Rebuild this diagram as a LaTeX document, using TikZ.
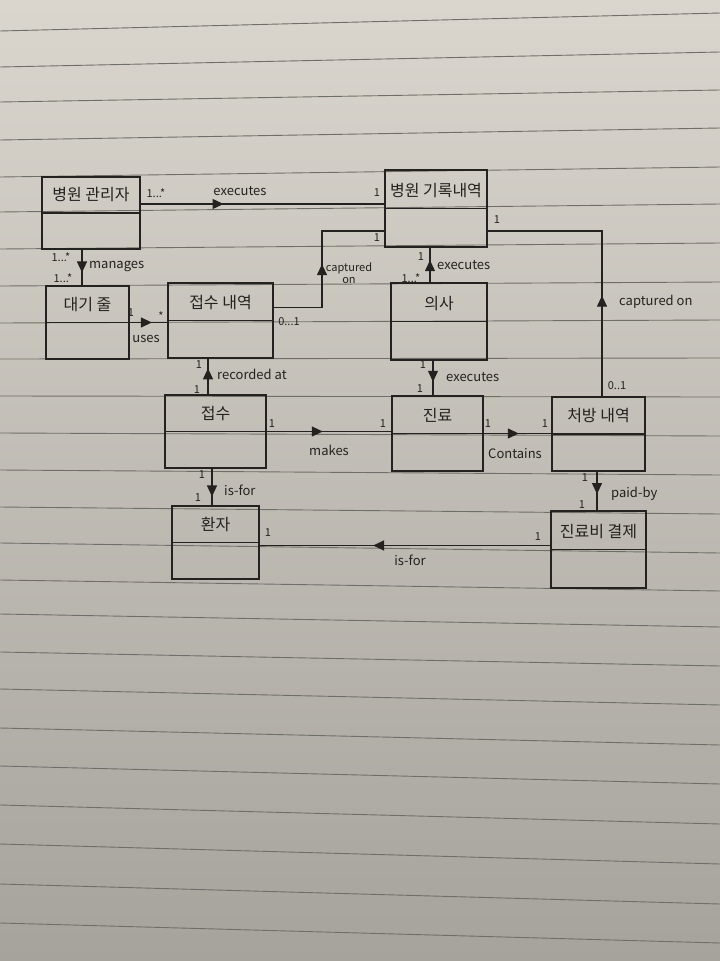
\documentclass[tikz,border=0pt]{standalone}
\usepackage{fontspec}
\setmainfont{Noto Sans CJK KR}
\usetikzlibrary{arrows.meta,decorations.markings}
\definecolor{ink}{RGB}{36,34,32}
\definecolor{paperTop}{RGB}{218,214,206}
\definecolor{paperMid}{RGB}{202,198,189}
\definecolor{paperBot}{RGB}{166,163,156}
\definecolor{ruleline}{RGB}{112,110,104}

\begin{document}
\begin{tikzpicture}[x=1pt,y=-1pt,
  cls/.style 2 args={draw=ink,line width=1.5pt,minimum width=#1,minimum height=#2,inner sep=0pt,
    font=\fontsize{16}{17}\selectfont,text=ink,text height=12pt,text depth=37pt,
    path picture={\draw[ink,line width=1.5pt] (path picture bounding box.west) -- (path picture bounding box.east);}},
  assoc/.style={ink,line width=1.2pt},
  dirmark/.style={postaction={decorate,decoration={markings,
    mark=at position #1 with {\arrow{Triangle[length=11pt,width=10pt]}}}}},
  lbl/.style={font=\fontsize{13}{14}\selectfont,text=ink,inner sep=0pt},
  mult/.style={font=\fontsize{11}{12}\selectfont,text=ink,inner sep=0pt}]
\useasboundingbox (0,0) rectangle (720,961);
% notebook paper
\shade[top color=paperTop,middle color=paperMid,bottom color=paperBot] (0,0) rectangle (720,961);
\foreach \yl/\yr in {31/13,67/52,102/90,140/128,177/167,212/204,249/243,286/282,323/320,
  359/358,396/397,433/436,470/475,507/514,543/553,580/591,614/627,652/666,689/705,
  728/745,766/784,805/824,844/864,884/904,923/943}
  \draw[ruleline,line width=0.9pt] (0,\yl) -- (720,\yr);

% classes
\node[cls={98pt}{72pt}] (hadmin) at (91,213) {병원 관리자};
\node[cls={102pt}{77pt}] (hrec) at (436,208.5) {병원 기록내역};
\node[cls={83pt}{73pt}] (queue) at (87.5,322.5) {대기 줄};
\node[cls={105pt}{75pt}] (rcphist) at (220.5,320.5) {접수 내역};
\node[cls={96pt}{77pt}] (doctor) at (439,321.5) {의사};
\node[cls={101pt}{73pt}] (rcp) at (215.5,431.5) {접수};
\node[cls={91pt}{75pt}] (treat) at (437.5,433.5) {진료};
\node[cls={93pt}{74pt}] (presc) at (598.5,434) {처방 내역};
\node[cls={87pt}{73pt}] (patient) at (215.5,542.5) {환자};
\node[cls={95pt}{77pt}] (pay) at (598.5,549.5) {진료비 결제};
\coordinate (capbend) at (322,231);

% associations
\draw[assoc,dirmark=0.34] ([yshift=9pt]hadmin.east) -- ([yshift=9pt]hadmin.east -| hrec.west);
\draw[assoc,dirmark=0.64] ([xshift=-9pt]hadmin.south) -- ([xshift=-9pt]hadmin.south |- queue.north);
\draw[assoc,dirmark=0.59] (queue.east) -- (queue.east -| rcphist.west);
\draw[assoc,dirmark=0.49] ([yshift=13pt]rcphist.east) -| (capbend) -- (capbend -| hrec.west);
\draw[assoc,dirmark=0.64] ([xshift=-9pt]doctor.north) -- ([xshift=-9pt]doctor.north |- hrec.south);
\draw[assoc,dirmark=0.36] ([xshift=3.5pt]presc.north) |- ([yshift=-22.5pt]hrec.east);
\draw[assoc,dirmark=0.61] ([xshift=-6pt]doctor.south) -- ([xshift=-6pt]doctor.south |- treat.north);
\draw[assoc,dirmark=0.73] ([xshift=-7.5pt]rcp.north) -- ([xshift=-7.5pt]rcp.north |- rcphist.south);
\draw[assoc,dirmark=0.45] (rcp.east) -- (rcp.east -| treat.west);
\draw[assoc,dirmark=0.52] (treat.east) -- (treat.east -| presc.west);
\draw[assoc,dirmark=0.76] ([xshift=-3.5pt]rcp.south) -- ([xshift=-3.5pt]rcp.south |- patient.north);
\draw[assoc,dirmark=0.58] ([xshift=-1.5pt]presc.south) -- ([xshift=-1.5pt]presc.south |- pay.north);
\draw[assoc,dirmark=0.61] ([yshift=4pt]pay.west) -- ([yshift=4pt]pay.west -| patient.east);

% association names
\foreach \x/\y/\a/\t [count=\i] in {240/191/center/executes,89/267/west/manages,146/339/center/uses,
  437/265/west/executes,619/302/west/captured on,446/377/west/executes,217/374/west/recorded at,
  329/450/center/makes,515/454/center/Contains,224/490/west/is-for,611/494/west/paid-by,
  410/560/center/is-for}
  \node[lbl,anchor=\a] (lbl\i) at (\x,\y) {\t};
\node[lbl,align=center,font=\fontsize{11}{12.5}\selectfont] (lblcap) at (349,273) {captured\\on};

% multiplicities
\foreach \x/\y/\t [count=\i] in {156/193/{1...*},377/193/1,61/257/{1...*},63/278/{1...*},
  131/313/1,161/316/*,289/322/{0...1},377/238/1,421/257/1,411/278/{1...*},497/220/1,
  617/386/{0..1},423/365/1,420/389/1,199/365/1,197/390/1,272/424/1,383/424/1,488/424/1,
  545/424/1,202/475/1,198/498/1,585/478/1,582/505/1,268/533/1,538/537/1}
  \node[mult] (m\i) at (\x,\y) {\t};
\end{tikzpicture}
\end{document}
